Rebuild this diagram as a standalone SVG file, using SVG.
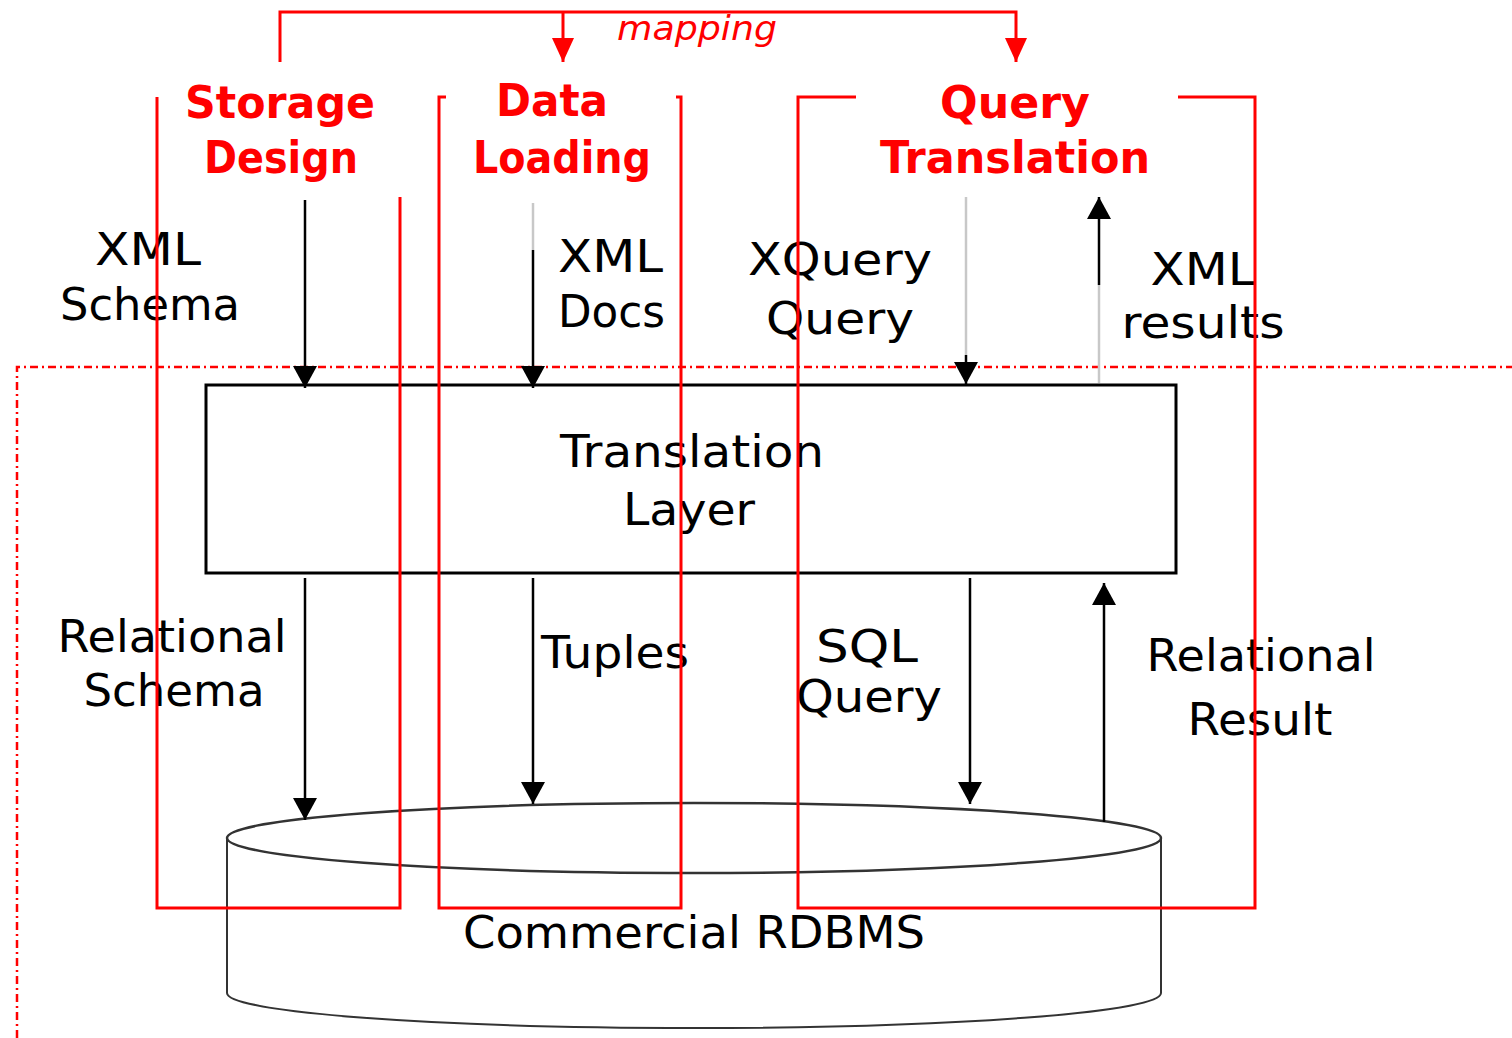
<svg xmlns="http://www.w3.org/2000/svg" width="1512" height="1038" viewBox="0 0 1512 1038">
<style>
.red{fill:none;stroke:#ff0000;stroke-width:3}
.blk{fill:none;stroke:#000;stroke-width:2.5}
.gry{fill:none;stroke:#c8c8c8;stroke-width:2.5}
.lbl{font-family:"DejaVu Sans","Liberation Sans",sans-serif;font-size:44px;fill:#000}
.rl{font-family:"DejaVu Sans","Liberation Sans",sans-serif;font-size:44px;font-weight:bold;fill:#ff0000}
</style>
<defs>
<marker id="ah" markerUnits="userSpaceOnUse" markerWidth="22" markerHeight="24" viewBox="0 0 22 24" refX="22" refY="12" orient="auto">
<path d="M0,0 L22,12 L0,24 Z" fill="#000"/>
</marker>
<marker id="rh" markerUnits="userSpaceOnUse" markerWidth="24" markerHeight="22" viewBox="0 0 24 22" refX="24" refY="11" orient="auto">
<path d="M0,0 L24,11 L0,22 Z" fill="#ff0000"/>
</marker>
</defs>
<rect width="1512" height="1038" fill="#fff"/>

<g id="boundary">
<path d="M17,1038 V367 H1512" fill="none" stroke="#ff0000" stroke-width="2.5" stroke-dasharray="8,4,2,4"/>
</g>

<g id="rdbms">
<path d="M227,838 V993 A467,35 0 0 0 1161,993 V838" fill="#fff" stroke="#333" stroke-width="2"/>
<ellipse cx="694" cy="838" rx="467" ry="35" fill="#fff" stroke="#333" stroke-width="2.5"/>
<text class="lbl" x="694" y="948" text-anchor="middle" font-size="42" textLength="462" lengthAdjust="spacingAndGlyphs">Commercial RDBMS</text>
</g>

<g id="translation-layer">
<rect x="206" y="385" width="970" height="188" fill="#fff" stroke="#000" stroke-width="3"/>
<text class="lbl" x="692" y="467" text-anchor="middle" textLength="264" lengthAdjust="spacingAndGlyphs">Translation</text>
<text class="lbl" x="689" y="525" text-anchor="middle" textLength="132" lengthAdjust="spacingAndGlyphs">Layer</text>
</g>

<g id="connectors">
<line class="blk" x1="305" y1="200" x2="305" y2="388" marker-end="url(#ah)"/>
<line class="gry" x1="533" y1="203" x2="533" y2="250"/>
<line class="blk" x1="533" y1="250" x2="533" y2="388" marker-end="url(#ah)"/>
<line class="gry" x1="966" y1="197" x2="966" y2="355"/>
<line class="blk" x1="966" y1="355" x2="966" y2="384" marker-end="url(#ah)"/>
<line class="gry" x1="1099" y1="383" x2="1099" y2="285"/>
<line class="blk" x1="1099" y1="285" x2="1099" y2="197" marker-end="url(#ah)"/>
<line class="blk" x1="305" y1="578" x2="305" y2="820" marker-end="url(#ah)"/>
<line class="blk" x1="533" y1="578" x2="533" y2="804" marker-end="url(#ah)"/>
<line class="blk" x1="970" y1="578" x2="970" y2="804" marker-end="url(#ah)"/>
<line class="blk" x1="1104" y1="822" x2="1104" y2="583" marker-end="url(#ah)"/>
<path class="red" d="M280,62 V12 H1016 V62" marker-end="url(#rh)"/>
<line class="red" x1="563" y1="12" x2="563" y2="62" marker-end="url(#rh)"/>
</g>

<g id="labels">
<text class="lbl" x="148" y="265" text-anchor="middle" textLength="106" lengthAdjust="spacingAndGlyphs">XML</text>
<text class="lbl" x="150" y="320" text-anchor="middle" textLength="180" lengthAdjust="spacingAndGlyphs">Schema</text>
<text class="lbl" x="558" y="272" textLength="105" lengthAdjust="spacingAndGlyphs">XML</text>
<text class="lbl" x="558" y="327" textLength="107" lengthAdjust="spacingAndGlyphs">Docs</text>
<text class="lbl" x="840" y="275" text-anchor="middle" textLength="184" lengthAdjust="spacingAndGlyphs">XQuery</text>
<text class="lbl" x="840" y="334" text-anchor="middle" textLength="148" lengthAdjust="spacingAndGlyphs">Query</text>
<text class="lbl" x="1203" y="285" text-anchor="middle" textLength="105" lengthAdjust="spacingAndGlyphs">XML</text>
<text class="lbl" x="1203" y="338" text-anchor="middle" textLength="163" lengthAdjust="spacingAndGlyphs">results</text>
<text class="lbl" x="172" y="652" text-anchor="middle" textLength="229" lengthAdjust="spacingAndGlyphs">Relational</text>
<text class="lbl" x="174" y="706" text-anchor="middle" textLength="181" lengthAdjust="spacingAndGlyphs">Schema</text>
<text class="lbl" x="615" y="668" text-anchor="middle" textLength="148" lengthAdjust="spacingAndGlyphs">Tuples</text>
<text class="lbl" x="867" y="662" text-anchor="middle" textLength="102" lengthAdjust="spacingAndGlyphs">SQL</text>
<text class="lbl" x="869" y="712" text-anchor="middle" textLength="146" lengthAdjust="spacingAndGlyphs">Query</text>
<text class="lbl" x="1261" y="671" text-anchor="middle" textLength="229" lengthAdjust="spacingAndGlyphs">Relational</text>
<text class="lbl" x="1260" y="735" text-anchor="middle" textLength="145" lengthAdjust="spacingAndGlyphs">Result</text>
<text x="697" y="40" text-anchor="middle" font-family="DejaVu Sans, sans-serif" font-size="34" font-style="italic" fill="#ff0000" textLength="160" lengthAdjust="spacingAndGlyphs">mapping</text>
</g>

<g id="storage-design">
<path class="red" d="M157,97 V908 H400 V197"/>
<text class="rl" x="280" y="118" text-anchor="middle" textLength="190" lengthAdjust="spacingAndGlyphs">Storage</text>
<text class="rl" x="281" y="173" text-anchor="middle" textLength="154" lengthAdjust="spacingAndGlyphs">Design</text>
</g>

<g id="data-loading">
<path class="red" d="M446,97 H439 V908 H681 V97 H676"/>
<text class="rl" x="552" y="116" text-anchor="middle" textLength="112" lengthAdjust="spacingAndGlyphs">Data</text>
<text class="rl" x="562" y="173" text-anchor="middle" textLength="178" lengthAdjust="spacingAndGlyphs">Loading</text>
</g>

<g id="query-translation">
<path class="red" d="M856,97 H798 V908 H1255 V97 H1178"/>
<text class="rl" x="1015" y="118" text-anchor="middle" textLength="150" lengthAdjust="spacingAndGlyphs">Query</text>
<text class="rl" x="1015" y="173" text-anchor="middle" textLength="270" lengthAdjust="spacingAndGlyphs">Translation</text>
</g>
</svg>
